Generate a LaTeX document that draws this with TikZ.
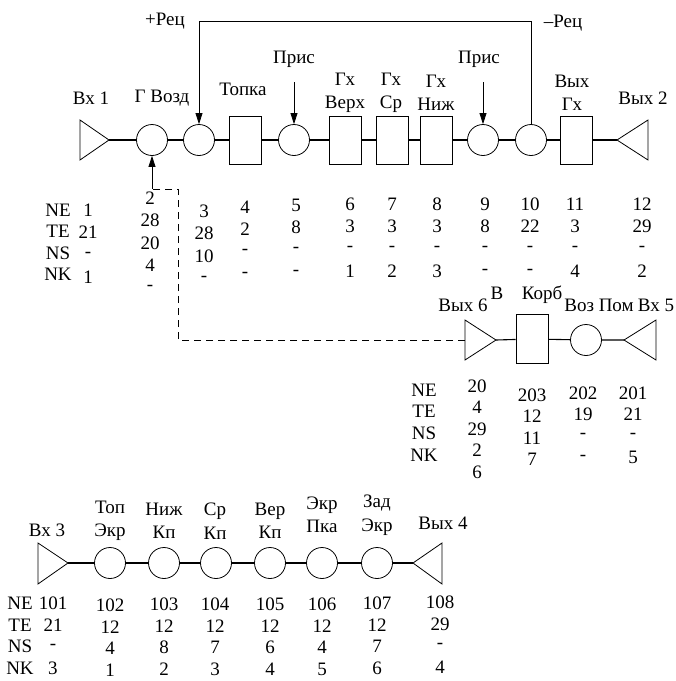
\documentclass[tikz,border=0pt]{standalone}
\usepackage{fontspec}
\setmainfont{Liberation Serif}
\usetikzlibrary{arrows.meta,calc}
\begin{document}
\begin{tikzpicture}[x=1pt,y=-1pt,
  txt/.style={inner sep=0pt,font=\fontsize{19}{23.5}\selectfont,align=center},
  circ/.style={draw,circle,minimum size=31pt,inner sep=0pt,line width=0.8pt},
  box/.style={draw,rectangle,minimum width=32pt,minimum height=48pt,inner sep=0pt,line width=0.8pt},
  wire/.style={line width=1.1pt},
  arr/.style={line width=0.8pt,-{Triangle[length=11pt,width=7pt]}},
  tri/.style={line width=0.8pt}]
\useasboundingbox (0,0) rectangle (676,681);
% ---------- top chain ----------
\coordinate (t1tip) at (109,140);
\draw[tri] (80,120) -- (t1tip) -- (80,160) -- cycle;
\node[circ] (c2) at (152,140) {};
\node[circ] (c3) at (199,140) {};
\node[box] (r4) at (245,140) {};
\node[circ] (c5) at (294,140) {};
\node[box] (r6) at (345,140) {};
\node[box] (r7) at (392.5,140) {};
\node[box] (r8) at (436.5,140) {};
\node[circ] (c9) at (483,140) {};
\node[circ] (c10) at (531,140) {};
\node[box] (r11) at (576,140) {};
\coordinate (t2tip) at (617,140);
\draw[tri] (648,120) -- (t2tip) -- (648,160) -- cycle;
\draw[wire] (t1tip) -- (c2) (c2) -- (c3) (c3) -- (r4) (r4) -- (c5) (c5) -- (r6) (r6) -- (r7)
  (r7) -- (r8) (r8) -- (c9) (c9) -- (c10) (c10) -- (r11) (r11) -- (t2tip);
% labels
\node[txt] (l1) at (91,98) {Вх 1};
\node[txt] (l2) at (162,98) {Г Возд};
\node[txt] (l4) at (243,89) {Топка};
\node[txt] (l5) at (294,59) {Прис};
\node[txt] (l6) at (345,93) {Гх\\Верх};
\node[txt] (l7) at (391,93) {Гх\\Ср};
\node[txt] (l8) at (436,93) {Гх\\Ниж};
\node[txt] (l9) at (479,59) {Прис};
\node[txt] (l11) at (572,93) {Вых\\Гх};
\node[txt] (l12) at (643,98) {Вых 2};
\node[txt] (lp) at (165,21) {+Рец};
\node[txt] (lm) at (563,23) {–Рец};
\coordinate (a5) at (294,82);
\coordinate (a9) at (483,82);
\draw[arr] (a5) -- (c5.north);
\draw[arr] (a9) -- (c9.north);
\coordinate (fbL) at (199,21);
\draw[arr] (c10.north) |- (fbL) -- (c3.north);
% ---------- top table ----------
\foreach \t [count=\i] in {NE,TE,NS,NK} {
  \pgfmathsetmacro{\yy}{210+21.5*(\i-1)}
  \node[txt] (hA\i) at (58,\yy) {\t};
}
\foreach \x/\y/\vals [count=\k] in {
  88/210/{1,21,-,1},
  150/198/{2,28,20,4,-},
  204/211/{3,28,10,-},
  245/207/{4,2,-,-},
  296/205/{5,8,-,-},
  350/204/{6,3,-,1},
  392/204/{7,3,-,2},
  437/204/{8,3,-,3},
  485/204/{9,8,-,-},
  530/204/{10,22,-,-},
  575/204/{11,3,-,4},
  642/204/{12,29,-,2}} {
  \foreach \v [count=\j] in \vals {
    \pgfmathsetmacro{\yy}{\y+22.5*(\j-1)}
    \node[txt] (tA\k-\j) at (\x,\yy) {\v};
  }
}
% ---------- middle chain ----------
\coordinate (t6tip) at (496,340);
\coordinate (t6base) at (465,340);
\draw[tri] (465,320) -- (t6tip) -- (465,360) -- cycle;
\node[box,minimum height=49pt] (r203) at (532,339) {};
\node[circ] (c202) at (586,340) {};
\coordinate (t5tip) at (624,340);
\draw[tri] (656,320) -- (t5tip) -- (656,360) -- cycle;
\draw[wire] (t6tip) -- (r203) (r203) -- (c202) (c202) -- (t5tip);
\node[txt] (m1) at (463,305) {Вых 6};
\node[txt] (m2) at (497,293) {В};
\node[txt] (m3) at (542,295) {Корб};
\node[txt] (m4) at (599,305) {Воз Пом};
\node[txt] (m5) at (656,305) {Вх 5};
\coordinate (dk) at (178,189);
\draw[line width=0.8pt,dash pattern=on 7pt off 5pt] (t6base) -| (dk) -- (150,189);
\draw[arr] (152,189) -- (c2.south);
\foreach \t [count=\i] in {NE,TE,NS,NK} {
  \pgfmathsetmacro{\yy}{390+21.7*(\i-1)}
  \node[txt] (hB\i) at (424,\yy) {\t};
}
\foreach \x/\y/\vals [count=\k] in {
  477/386/{20,4,29,2,6},
  532/395/{203,12,11,7},
  583/393/{202,19,-,-},
  633/393/{201,21,-,5}} {
  \foreach \v [count=\j] in \vals {
    \pgfmathsetmacro{\yy}{\y+21.5*(\j-1)}
    \node[txt] (tB\k-\j) at (\x,\yy) {\v};
  }
}
% ---------- bottom chain ----------
\coordinate (t3tip) at (68,563);
\draw[tri] (38,543) -- (t3tip) -- (38,584) -- cycle;
\node[circ] (b102) at (110,563) {};
\node[circ] (b103) at (164,563) {};
\node[circ] (b104) at (216,563) {};
\node[circ] (b105) at (270,563) {};
\node[circ] (b106) at (322,563) {};
\node[circ] (b107) at (377,563) {};
\coordinate (t4tip) at (413,563);
\draw[tri] (442,543) -- (t4tip) -- (442,584) -- cycle;
\draw[wire] (t3tip) -- (b102) (b102) -- (b103) (b103) -- (b104) (b104) -- (b105)
  (b105) -- (b106) (b106) -- (b107) (b107) -- (t4tip);
\node[txt] (n1) at (47,530) {Вх 3};
\node[txt] (n2) at (110,521) {Топ\\Экр};
\node[txt] (n3) at (164,521) {Ниж\\Кп};
\node[txt] (n4) at (215,521) {Ср\\Кп};
\node[txt] (n5) at (270,521) {Вер\\Кп};
\node[txt] (n6) at (322,515) {Экр\\Пка};
\node[txt] (n7) at (377,515) {Зад\\Экр};
\node[txt] (n8) at (443,523) {Вых 4};
\foreach \t [count=\i] in {NE,TE,NS,NK} {
  \pgfmathsetmacro{\yy}{603+21.8*(\i-1)}
  \node[txt] (hC\i) at (20,\yy) {\t};
}
\foreach \x/\y/\vals [count=\k] in {
  53/603/{101,21,-,3},
  110/605/{102,12,4,1},
  164/604/{103,12,8,2},
  215/604/{104,12,7,3},
  270/604/{105,12,6,4},
  322/604/{106,12,4,5},
  377/603/{107,12,7,6},
  440/602/{108,29,-,4}} {
  \foreach \v [count=\j] in \vals {
    \pgfmathsetmacro{\yy}{\y+21.8*(\j-1)}
    \node[txt] (tC\k-\j) at (\x,\yy) {\v};
  }
}
\end{tikzpicture}
\end{document}
